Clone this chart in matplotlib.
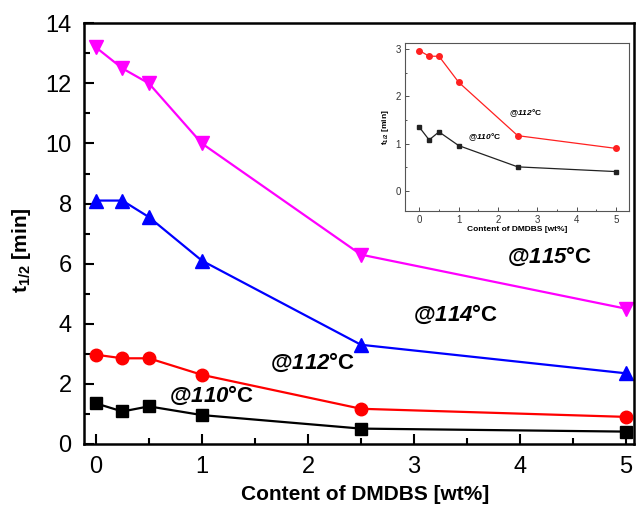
import matplotlib
matplotlib.use('Agg')
from matplotlib import pyplot as plt
from matplotlib.ticker import MultipleLocator

plt.rcParams['font.family'] = ['Liberation Sans', 'DejaVu Sans']
plt.rcParams['mathtext.fontset'] = 'custom'
plt.rcParams['mathtext.rm'] = 'Liberation Sans:bold'
plt.rcParams['mathtext.bf'] = 'Liberation Sans:bold'
plt.rcParams['mathtext.sf'] = 'Liberation Sans:bold:italic'  # numeros en cursiva

# contenido de DMDBS [wt%]
content = [0, 0.25, 0.5, 1, 2.5, 5]

# t1/2 para cada temperatura
t_115 = [13.2, 12.5, 12.0, 10.0, 6.3, 4.5]
t_114 = [8.1, 8.1, 7.55, 6.1, 3.3, 2.35]
t_112 = [2.97, 2.85, 2.85, 2.3, 1.17, 0.9]
t_110 = [1.35, 1.08, 1.25, 0.96, 0.51, 0.41]

fig = plt.figure(figsize=(6.38, 5.18), dpi=100)
ax = fig.add_axes([0.132, 0.143, 0.861, 0.812])

ax.plot(content, t_115, color='#ff00ff', marker='v', markersize=10, linewidth=1.6)
ax.plot(content, t_114, color='#0000ff', marker='^', markersize=10, linewidth=1.6)
ax.plot(content, t_112, color='#ff0000', marker='o', markersize=9, linewidth=1.6)
ax.plot(content, t_110, color='black', marker='s', markersize=8, linewidth=1.6)

ax.text(4.28, 6.25, r'@$\mathsf{115}$°C', fontsize=16, fontweight='bold', ha='center', va='center')
ax.text(3.39, 4.3, r'@$\mathsf{114}$°C', fontsize=16, fontweight='bold', ha='center', va='center')
ax.text(2.04, 2.7, r'@$\mathsf{112}$°C', fontsize=16, fontweight='bold', ha='center', va='center')
ax.text(1.09, 1.6, r'@$\mathsf{110}$°C', fontsize=16, fontweight='bold', ha='center', va='center')

ax.set_xlim(-0.11, 5.07)
ax.set_ylim(0, 14)
ax.xaxis.set_major_locator(MultipleLocator(1))
ax.xaxis.set_minor_locator(MultipleLocator(0.5))
ax.yaxis.set_major_locator(MultipleLocator(2))
ax.yaxis.set_minor_locator(MultipleLocator(1))
ax.tick_params(which='both', direction='in', width=1.5, labelsize=17, top=False, right=False)
ax.tick_params(which='major', length=7, pad=9)
ax.tick_params(which='minor', length=4)
for s in ax.spines.values():
    s.set_linewidth(1.8)

ax.set_xlabel('Content of DMDBS [wt%]', fontsize=15, fontweight='bold')
ax.set_ylabel(r'$\mathbf{t_{1/2}}$ [min]', fontsize=15, fontweight='bold')
ax.xaxis.set_label_coords(0.512, -0.097)
ax.yaxis.set_label_coords(-0.093, 0.46)

# grafico pequeño
ins = fig.add_axes([0.635, 0.593, 0.351, 0.324])
ins.plot(content, t_112, color='#ff2020', marker='o', markersize=4, linewidth=0.9)
ins.plot(content, t_110, color='#222222', marker='s', markersize=3.5, linewidth=0.9)
ins.text(2.69, 1.65, r'@$\mathsf{112}$°C', fontsize=6, fontweight='bold', ha='center', va='center')
ins.text(1.67, 1.14, r'@$\mathsf{110}$°C', fontsize=6, fontweight='bold', ha='center', va='center')
ins.set_xlim(-0.36, 5.33)
ins.set_ylim(-0.42, 3.13)
ins.xaxis.set_major_locator(MultipleLocator(1))
ins.xaxis.set_minor_locator(MultipleLocator(0.5))
ins.yaxis.set_major_locator(MultipleLocator(1))
ins.yaxis.set_minor_locator(MultipleLocator(0.5))
ins.tick_params(which='both', direction='in', labelsize=7, width=0.6, colors='#333333')
ins.tick_params(which='major', length=3, pad=3)
ins.tick_params(which='minor', length=1.5)
for s in ins.spines.values():
    s.set_linewidth(0.8)
    s.set_color('#555555')
ins.set_xlabel('Content of DMDBS [wt%]', fontsize=6, fontweight='bold', labelpad=1)
ins.set_ylabel(r'$\mathbf{t_{1/2}}$ [min]', fontsize=6, fontweight='bold', labelpad=3)

fig.savefig('out.png', dpi=100)
